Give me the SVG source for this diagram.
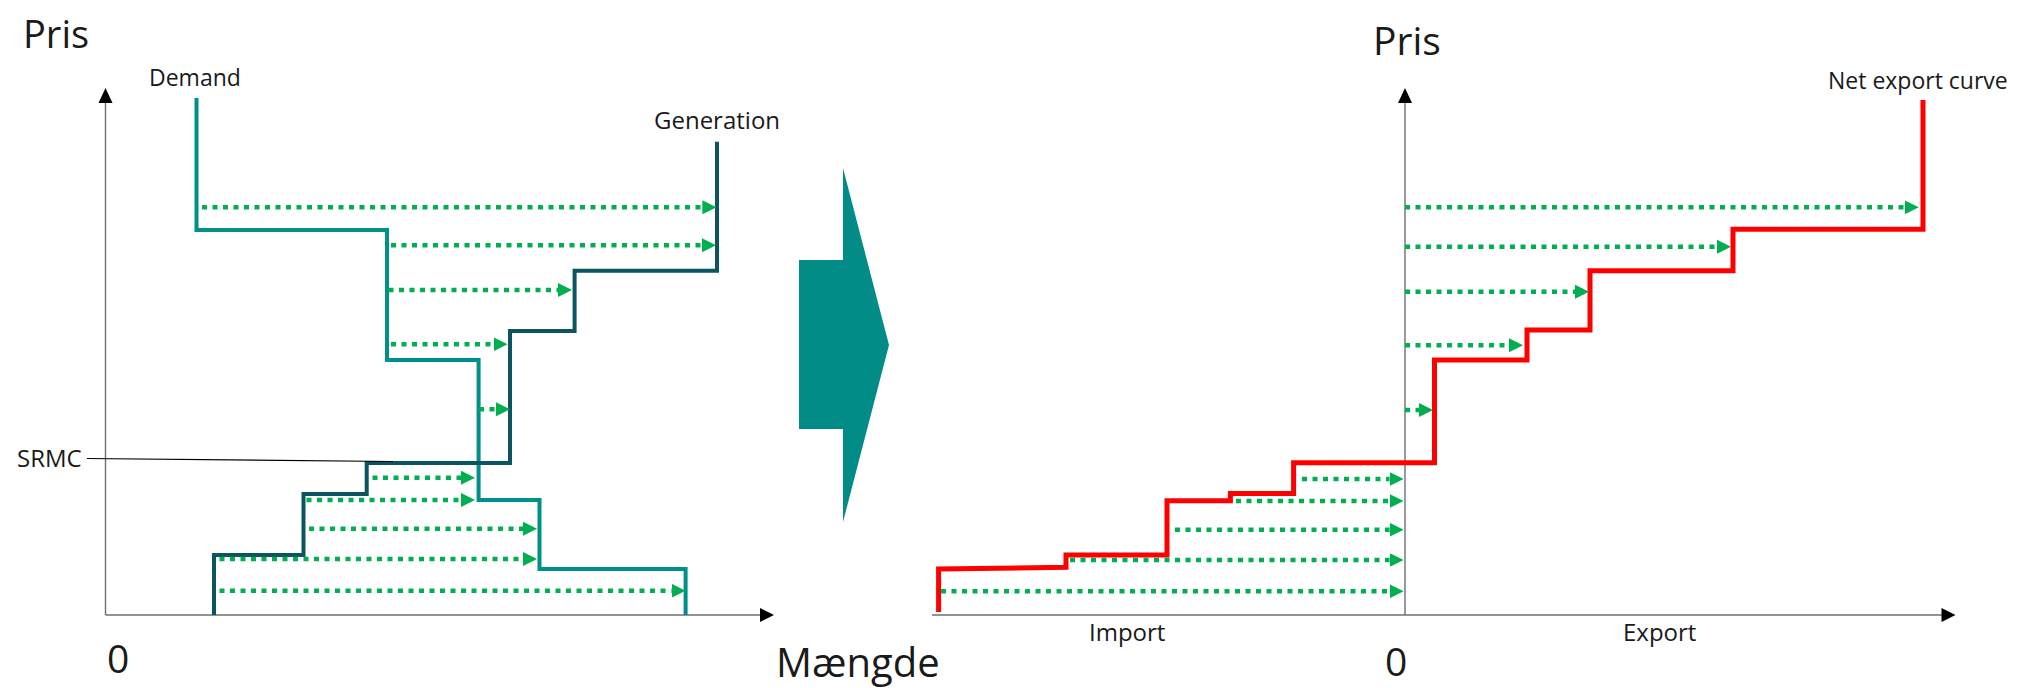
<svg xmlns="http://www.w3.org/2000/svg" width="2020" height="688" viewBox="0 0 2020 688">
<style>
  text { font-family: "Open Sans", "Noto Sans", "Liberation Sans", sans-serif; fill: #1a1a1a; }
  .big { font-size: 38px; }
  .small { font-size: 23px; }
  .axis { stroke: #6f6f6f; stroke-width: 1.4; fill: none; }
  .axhead { fill: #000; }
  .demand { stroke: #00908A; stroke-width: 4; fill: none; stroke-linejoin: miter; }
  .gen { stroke: #0C5460; stroke-width: 4; fill: none; stroke-linejoin: miter; }
  .net { stroke: #ff0000; stroke-width: 5; fill: none; stroke-linejoin: miter; }
  .flow { stroke: #00B050; stroke-width: 4.5; stroke-dasharray: 5 5.5; fill: none; marker-end: url(#gh); }
</style>
<defs>
  <marker id="gh" markerUnits="userSpaceOnUse" markerWidth="14" markerHeight="14" viewBox="0 0 14 14" refX="0" refY="7" orient="auto">
    <path d="M0,0 L14,7 L0,14 Z" fill="#00B050"/>
  </marker>
</defs>
<rect width="2020" height="688" fill="#fff"/>

<g id="left-axes">
  <line class="axis" x1="105.5" y1="615" x2="105.5" y2="100"/>
  <path class="axhead" d="M105.5,88 L112.5,103 L98.5,103 Z"/>
  <line class="axis" x1="105.5" y1="615" x2="762" y2="615"/>
  <path class="axhead" d="M774,615 L760,608 L760,622 Z"/>
  <text class="big" x="23" y="48">Pris</text>
  <text class="big" x="107" y="672.5" style="font-size:39px">0</text>
  <text class="big" x="776" y="676.5" style="font-size:40px">Mængde</text>
</g>

<g id="demand-curve">
  <path class="demand" d="M196.5,98 V230 H387 V360 H478.6 V500 H539.5 V569 H685.6 V615"/>
  <text class="small" x="149" y="86">Demand</text>
</g>

<g id="generation-curve">
  <path class="gen" d="M214,615 V555 H303.5 V494 H366.7 V463 H510 V331 H574.6 V270.7 H717 V141.7"/>
  <text class="small" x="654" y="129" style="font-size:24px">Generation</text>
</g>

<g id="srmc">
  <line x1="87" y1="458.5" x2="393" y2="461.5" stroke="#000" stroke-width="1.2"/>
  <text class="small" x="17" y="467" style="font-size:24px">SRMC</text>
</g>

<g id="transform-arrow">
  <path d="M799,260 H843 V168 L889,345 L843,522 V429 H799 Z" fill="#028C87"/>
</g>

<g id="right-axes">
  <line class="axis" x1="1405" y1="615" x2="1405" y2="100"/>
  <path class="axhead" d="M1405,88 L1412,103 L1398,103 Z"/>
  <line class="axis" x1="932" y1="615" x2="1944" y2="615"/>
  <path class="axhead" d="M1955.5,615 L1941.5,608 L1941.5,622 Z"/>
  <text class="big" x="1373" y="55" style="font-size:39px">Pris</text>
  <text class="big" x="1385" y="676" style="font-size:39px">0</text>
  <text class="small" x="1089" y="641" style="font-size:24px">Import</text>
  <text class="small" x="1623" y="641" style="font-size:24px">Export</text>
</g>

<g id="net-export-curve">
  <path class="net" d="M938.6,612 V569 L1066,567.3 V555 H1167 V500.7 H1230.4 V493.5 H1293.6 V462.7 H1434.5 V360 H1527 V330 H1590 V270.7 H1733 V229.3 H1923 V100"/>
  <text class="small" x="1828" y="89">Net export curve</text>
</g>

<g id="connectors">
  <line class="flow" x1="202" y1="207.3" x2="702.4" y2="207.3"/>
  <line class="flow" x1="391" y1="245.3" x2="702" y2="245.3"/>
  <line class="flow" x1="388.5" y1="290" x2="558" y2="290"/>
  <line class="flow" x1="391" y1="344.3" x2="493.5" y2="344.3"/>
  <line class="flow" x1="479" y1="409.3" x2="496" y2="409.3"/>
  <line class="flow" x1="372.5" y1="477.7" x2="461" y2="477.7"/>
  <line class="flow" x1="306.5" y1="500" x2="461" y2="500"/>
  <line class="flow" x1="309" y1="528.7" x2="523" y2="528.7"/>
  <line class="flow" x1="219.5" y1="559" x2="523" y2="559"/>
  <line class="flow" x1="219.5" y1="590.7" x2="671.6" y2="590.7"/>

  <line class="flow" x1="1405" y1="207.3" x2="1904.8" y2="207.3"/>
  <line class="flow" x1="1405" y1="246.7" x2="1717" y2="246.7"/>
  <line class="flow" x1="1405" y1="291.7" x2="1575" y2="291.7"/>
  <line class="flow" x1="1405" y1="345.3" x2="1509" y2="345.3"/>
  <line class="flow" x1="1405" y1="410" x2="1419" y2="410"/>
  <line class="flow" x1="1302" y1="479" x2="1389.6" y2="479"/>
  <line class="flow" x1="1236" y1="501" x2="1389.6" y2="501"/>
  <line class="flow" x1="1175" y1="529.7" x2="1389.6" y2="529.7"/>
  <line class="flow" x1="1070" y1="560" x2="1389.6" y2="560"/>
  <line class="flow" x1="941" y1="591.3" x2="1389.6" y2="591.3"/>
</g>
</svg>
